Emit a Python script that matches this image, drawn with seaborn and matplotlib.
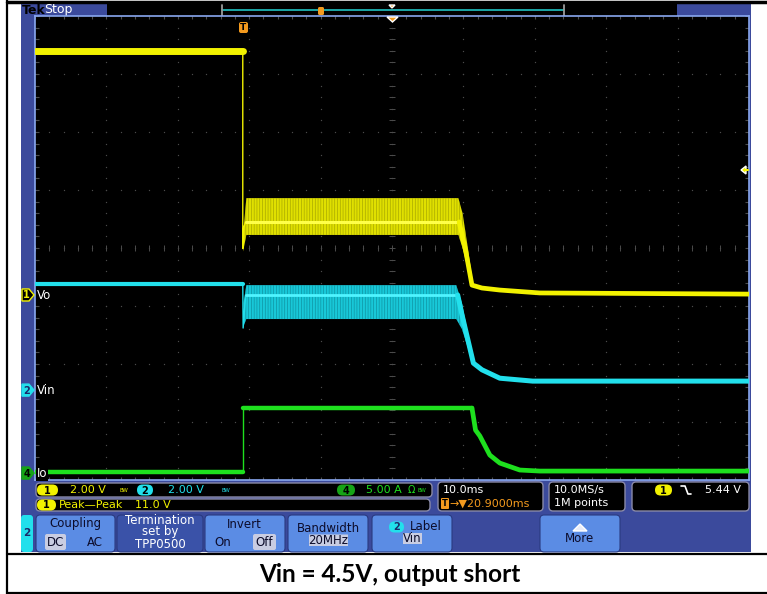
import numpy as np
import pandas as pd
import matplotlib
matplotlib.use("Agg")
import matplotlib.pyplot as plt
import seaborn as sns
from matplotlib.patches import FancyBboxPatch, Polygon

sns.set_theme(style="white")
plt.rcParams["font.family"] = ["DejaVu Sans"]
plt.rcParams["hatch.linewidth"] = 0.45

# ---------------- channel / timebase settings ----------------
ch_scale = {"Vo": 2.0, "Vin": 2.0, "Io": 5.0}          # units per division
ch_offset = {"Vo": -0.81, "Vin": -2.45, "Io": -3.88}    # ground level, divisions from centre
t_left, t_right = -29.1, 70.9                           # ms relative to trigger
t_center = 20.9                                         # trigger delay (ms)

# ---------------- Vo (ch1, volts) ----------------
vo_pre_t = [-29.1, 0.0]
vo_pre_v = [8.41, 8.41]
vo_edge_t = [0.0, 0.0, 0.1, 0.4]
vo_edge_v = [8.41, 1.60, 2.30, 2.52]
vo_on_t = [0.4, 30.3]
vo_on_v = [2.52, 2.52]
vo_env_t = [0.05, 0.5, 30.2, 30.8, 31.6, 32.2]
vo_env_hi = [2.10, 3.34, 3.34, 2.80, 1.50, 0.45]
vo_env_lo = [1.50, 2.07, 2.07, 1.60, 0.80, 0.25]
vo_off_t = [30.3, 31.2, 32.1, 33.5, 36.0, 41.6, 70.9]
vo_off_v = [2.52, 1.55, 0.34, 0.24, 0.17, 0.07, 0.03]

# ---------------- Vin (ch2, volts) ----------------
vin_pre_t = [-29.1, 0.0]
vin_pre_v = [3.66, 3.66]
vin_edge_t = [0.0, 0.05, 0.4]
vin_edge_v = [3.66, 2.14, 3.28]
vin_on_t = [0.4, 30.1]
vin_on_v = [3.28, 3.28]
vin_env_t = [0.1, 0.5, 29.9, 30.7, 32.3]
vin_env_hi = [3.00, 3.62, 3.62, 3.00, 1.00]
vin_env_lo = [2.20, 2.45, 2.45, 2.10, 0.85]
vin_off_t = [30.1, 30.7, 32.3, 33.5, 36.0, 40.6, 70.9]
vin_off_v = [3.28, 2.60, 0.93, 0.70, 0.41, 0.31, 0.31]

# ---------------- Io (ch4, amps) ----------------
io_pre_t = [-29.1, 0.0]
io_pre_v = [0.09, 0.09]
io_edge_t = [0.0, 0.0]
io_edge_v = [0.09, 5.60]
io_on_t = [0.0, 32.1]
io_on_v = [5.60, 5.60]
io_off_t = [32.1, 32.6, 33.2, 34.6, 36.0, 38.8, 41.6, 70.9]
io_off_v = [5.60, 3.70, 3.20, 1.55, 0.86, 0.26, 0.17, 0.17]

YEL, CYA, GRN = "#f2f200", "#22e0ec", "#1ee01e"
FRAME, LIGHT, BTN, BTN_DARK, HILITE = "#3b4a9c", "#8aa8f0", "#5b8ce4", "#3a52a8", "#c9cde2"
ORANGE = "#f39a1e"
GRID = "#4c4c4c"

W, H = 767, 594
fig = plt.figure(figsize=(W / 100, H / 100), dpi=100)
fig.patch.set_facecolor("white")


def overlay(z):
    a = fig.add_axes([0, 0, 1, 1], zorder=z)
    a.set_xlim(0, W)
    a.set_ylim(H, 0)
    a.set_axis_off()
    a.patch.set_alpha(0)
    return a

ui = overlay(0)
ov = overlay(3)

# ---------------- screen axes ----------------
ax = fig.add_axes([35 / W, (H - 480) / H, 714 / W, 464 / H], zorder=1)
ax.set_facecolor("black")
ax.set_xlim(t_left, t_right)
ax.set_ylim(-4, 4)
ax.set_xticks([])
ax.set_yticks([])
ax.grid(False)
for s in ax.spines.values():
    s.set_color(LIGHT)
    s.set_linewidth(1.2)

# graticule: dotted division lines, ticked centre cross and edges
div_t = 10.0
grid_t = [t_center + div_t * k for k in range(-4, 5)]
grid_y = list(range(-3, 4))
dots_y = np.arange(-4, 4.001, 0.2)
dots_t = np.arange(t_left, t_right + 0.001, div_t * 0.2)
gx = [x for x in grid_t for _ in dots_y]
gy = [y for _ in grid_t for y in dots_y]
hx = [x for _ in grid_y for x in dots_t]
hy = [y for y in grid_y for _ in dots_t]
ax.scatter(gx + hx, gy + hy, s=0.9, color=GRID, lw=0, zorder=1)
ax.hlines(dots_y, t_center - 0.4, t_center + 0.4, color=GRID, lw=0.7, zorder=1)
ax.vlines(dots_t, -0.05, 0.05, color=GRID, lw=0.7, zorder=1)
ax.vlines(dots_t, 4 - 0.06, 4, color=GRID, lw=0.8, zorder=1)
ax.vlines(dots_t, -4, -4 + 0.06, color=GRID, lw=0.8, zorder=1)
ax.hlines(dots_y, t_right - 0.5, t_right, color=GRID, lw=0.8, zorder=1)
ax.hlines(dots_y, t_left, t_left + 0.5, color=GRID, lw=0.8, zorder=1)


def to_div(values, ch):
    return [ch_offset[ch] + v / ch_scale[ch] for v in values]


def trace(t, v, ch, color, lw, z=3):
    df = pd.DataFrame({"t": t, "div": to_div(v, ch)})
    sns.lineplot(data=df, x="t", y="div", ax=ax, color=color, lw=lw,
                 estimator=None, sort=False, legend=False, zorder=z)


def band(t, lo, hi, ch, face, streak):
    ax.fill_between(t, to_div(lo, ch), to_div(hi, ch), facecolor=face,
                    edgecolor=streak, hatch="||||||", lw=0, zorder=2)

# Io
trace(io_pre_t, io_pre_v, "Io", GRN, 3.2)
trace(io_edge_t, io_edge_v, "Io", GRN, 1.0)
trace(io_on_t, io_on_v, "Io", GRN, 3.2)
trace(io_off_t, io_off_v, "Io", GRN, 3.4)
# Vin
band(vin_env_t, vin_env_lo, vin_env_hi, "Vin", "#18c8d8", "#0e8e9c")
trace(vin_pre_t, vin_pre_v, "Vin", CYA, 3.0)
trace(vin_edge_t, vin_edge_v, "Vin", CYA, 1.0)
trace(vin_on_t, vin_on_v, "Vin", "#50f4ff", 2.0)
trace(vin_off_t, vin_off_v, "Vin", CYA, 3.6)
# Vo
band(vo_env_t, vo_env_lo, vo_env_hi, "Vo", "#e0e000", "#a2a200")
trace(vo_pre_t, vo_pre_v, "Vo", YEL, 5.0)
trace(vo_edge_t, vo_edge_v, "Vo", YEL, 1.0)
trace(vo_on_t, vo_on_v, "Vo", "#ffff4a", 2.2)
trace(vo_off_t, vo_off_v, "Vo", YEL, 3.4)
ax.set_xlabel("")
ax.set_ylabel("")


# ---------------- helpers for the instrument frame ----------------
def rbox(a, x0, y0, x1, y1, fc, ec="none", r=3, lw=1.0, z=1):
    a.add_patch(FancyBboxPatch((x0, y0), x1 - x0, y1 - y0,
                               boxstyle=f"round,pad=0,rounding_size={r}",
                               fc=fc, ec=ec, lw=lw, zorder=z))


def txt(a, x, y, s, color="white", size=8, ha="left", weight="normal", z=5, **kw):
    a.text(x, y, s, color=color, fontsize=size, ha=ha, va="center",
           fontweight=weight, zorder=z, **kw)


def badge(a, x0, x1, y, fc, label, tc="black", size=7):
    rbox(a, x0, y - 5.5, x1, y + 5.5, fc, r=5.5, z=4)
    txt(a, (x0 + x1) / 2, y + 0.5, label, color=tc, size=size, ha="center", weight="bold")

# table borders
ui.plot([7, 7], [0, H], color="black", lw=1.6)
ui.plot([7, W], [1.5, 1.5], color="black", lw=2.5)
ui.plot([7, W], [554, 554], color="black", lw=1.6)
ui.plot([7, W], [593, 593], color="black", lw=1.6)

# scope frame
rbox(ui, 21, 4, 751, 552, FRAME, r=0)
rbox(ui, 107, 4, 677, 16, "black", r=0, z=2)

# header
txt(ui, 22, 10.5, "Tek", color="black", size=9, weight="bold")
txt(ui, 44, 10, "Stop", color="white", size=9)
ui.plot([222, 564], [10, 10], color="#1fb4b4", lw=1.3, zorder=3)
ui.plot([222, 222], [5, 16], color="#9a9a9a", lw=1.3, zorder=3)
ui.plot([564, 564], [5, 16], color="#9a9a9a", lw=1.3, zorder=3)
rbox(ui, 318, 7, 324, 15, ORANGE, r=1.5, z=4)
ui.add_patch(Polygon([(389, 5), (395, 5), (392, 8)], closed=True, fc=ORANGE, zorder=4))

# screen markers
rbox(ov, 239, 22, 248, 33, ORANGE, r=2, z=4)
txt(ov, 243.5, 27.5, "T", color="black", size=6.5, ha="center", weight="bold")
ov.add_patch(Polygon([(387, 17), (398, 17), (392.5, 22)], closed=True, fc=ORANGE, zorder=4))
ov.add_patch(Polygon([(741, 170), (746, 166), (746, 174)], closed=True, fc=YEL, zorder=4))
ov.plot([745, 748], [170, 170], color=YEL, lw=1.5, zorder=4)


def ground_px(ch):
    return H - ax.transData.transform((t_left, ch_offset[ch]))[1]


def ch_marker(ch, num, fc, ec, tc):
    y = ground_px(ch)
    ov.add_patch(Polygon([(22, y - 6), (29, y - 6), (34, y), (29, y + 6), (22, y + 6)],
                         closed=True, fc=fc, ec=ec, lw=1.0, zorder=4))
    txt(ov, 26.5, y + 0.5, num, color=tc, size=7, ha="center", weight="bold")
    txt(ov, 37, y + 0.5, ch, color="white", size=8.5,
        bbox=dict(fc="black", ec="none", pad=0.6))

ch_marker("Vo", "1", "black", YEL, YEL)
ch_marker("Vin", "2", CYA, CYA, "#1a2a6a")
ch_marker("Io", "4", "#16a416", "#16a416", "black")

# ---------------- bottom readout panel ----------------
rbox(ui, 36, 483, 432, 497, "black", ec="#8a8aa8", r=4, z=2)
rbox(ui, 36, 499, 430, 511, "black", ec="#8a8aa8", r=4, z=2)
rbox(ui, 438, 482, 543, 511, "black", ec="#8a8aa8", r=4, z=2)
rbox(ui, 549, 482, 625, 511, "black", ec="#8a8aa8", r=4, z=2)
rbox(ui, 632, 482, 749, 511, "black", ec="#8a8aa8", r=4, z=2)

badge(ui, 37, 58, 490, YEL, "1")
txt(ui, 70, 490, "2.00 V", color=YEL, size=8)
txt(ui, 119, 490, "BW", color=YEL, size=4)
badge(ui, 137, 153, 490, CYA, "2")
txt(ui, 168, 490, "2.00 V", color=CYA, size=8)
txt(ui, 221, 490, "BW", color=CYA, size=4)
badge(ui, 337, 355, 490, "#16a416", "4")
txt(ui, 366, 490, "5.00 A", color=GRN, size=8)
txt(ui, 408, 490, "Ω", color=GRN, size=7)
txt(ui, 418, 490, "BW", color=GRN, size=4)

badge(ui, 37, 56, 505, YEL, "1")
txt(ui, 59, 505, "Peak\u2014Peak", color=YEL, size=8)
txt(ui, 135, 505, "11.0 V", color=YEL, size=8)

txt(ui, 443, 490, "10.0ms", size=8)
rbox(ui, 441, 498, 449, 509, ORANGE, r=1, z=3)
txt(ui, 445, 503.5, "T", color="black", size=6, ha="center", weight="bold")
txt(ui, 449, 503.5, "\u2192\u25bc20.9000ms", color=ORANGE, size=8)

txt(ui, 554, 490, "10.0MS/s", size=8)
txt(ui, 554, 503, "1M points", size=8)

badge(ui, 655, 672, 490, YEL, "1")
ui.plot([681, 685, 688, 691], [486, 486, 494, 494], color="white", lw=1.2, zorder=4)
txt(ui, 705, 490, "5.44 V", size=8)

# soft keys
rbox(ui, 21, 515, 33, 552, CYA, r=3, z=2)
txt(ui, 27, 533, "2", color="#1a2a6a", size=7.5, ha="center", weight="bold")
keys = [(36, 115, BTN), (117, 203, BTN_DARK), (205, 285, BTN), (288, 368, BTN),
        (372, 452, BTN), (540, 620, BTN)]
for x0, x1, c in keys:
    rbox(ui, x0, 515, x1, 552, c, ec="#2a3a80", r=4, lw=0.8, z=2)

DK = "#0c0c2a"
txt(ui, 75.5, 524, "Coupling", color=DK, size=8.5, ha="center")
rbox(ui, 45, 534, 66, 550, HILITE, r=2, z=3)
txt(ui, 55.5, 542, "DC", color=DK, size=8.5, ha="center")
txt(ui, 95, 542, "AC", color=DK, size=8.5, ha="center")

txt(ui, 160, 520.5, "Termination", size=8.5, ha="center")
txt(ui, 160, 532, "set by", size=8.5, ha="center")
txt(ui, 160, 544, "TPP0500", size=8.5, ha="center")

txt(ui, 244, 524, "Invert", color=DK, size=8.5, ha="center")
txt(ui, 223, 542, "On", color=DK, size=8.5, ha="center")
rbox(ui, 253, 534, 276, 550, HILITE, r=2, z=3)
txt(ui, 264.5, 542, "Off", color=DK, size=8.5, ha="center")

txt(ui, 328, 528, "Bandwidth", color=DK, size=8.5, ha="center")
rbox(ui, 309, 534.5, 348, 546, HILITE, r=0, z=3)
txt(ui, 328.5, 540, "20MHz", color=DK, size=8.5, ha="center")

badge(ui, 389, 404, 527, CYA, "2", tc="#1a2a6a")
txt(ui, 410, 527, "Label", color=DK, size=8.5)
rbox(ui, 403, 533, 422, 544, HILITE, r=0, z=3)
txt(ui, 412.5, 538.5, "Vin", color=DK, size=8.5, ha="center")

ui.add_patch(Polygon([(573, 531), (587, 531), (580, 524)], closed=True, fc="#e8ecf8", zorder=4))
txt(ui, 580, 539, "More", color=DK, size=8.5, ha="center")

# caption
ui.text(390, 574, "Vin = 4.5V, output short", fontsize=17.6, fontweight="bold",
        family=["Lato", "DejaVu Sans"], ha="center", va="center", color="black")

fig.savefig("out.png", dpi=100, facecolor="white")
